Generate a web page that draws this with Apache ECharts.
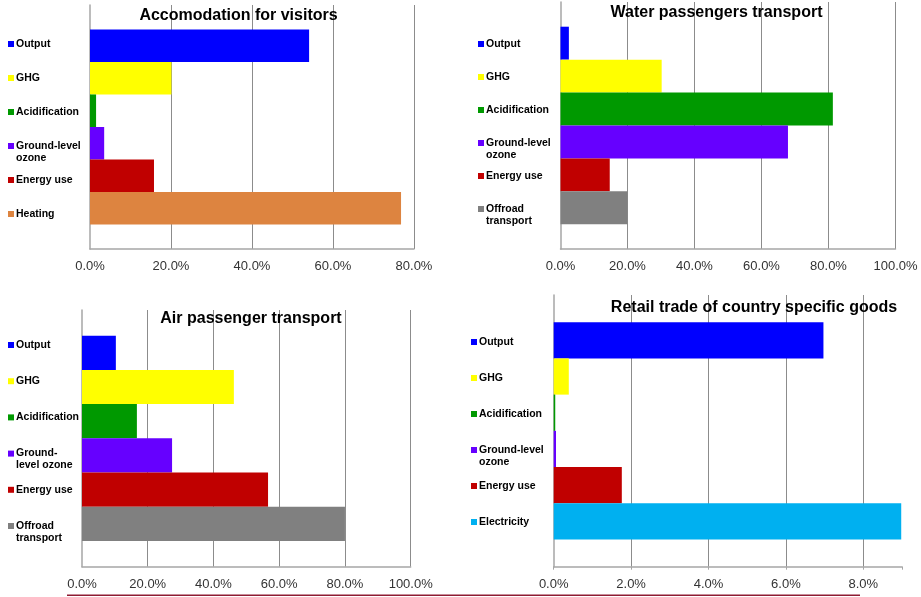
<!DOCTYPE html>
<html>
<head>
<meta charset="utf-8">
<script src="https://cdn.jsdelivr.net/npm/echarts@6/dist/echarts.min.js"></script>
<style>
html,body{margin:0;padding:0;background:#fff;}
#chart{width:921px;height:597px;}
</style>
</head>
<body>
<div id="chart"></div>
<script>
// ---- data ----
const titles = ['Accomodation for visitors', 'Water passengers transport', 'Air passenger transport', 'Retail trade of country specific goods'];

const metrics1 = ['Output', 'GHG', 'Acidification', 'Ground-level ozone', 'Energy use', 'Heating'];
const values1 = [54.1, 20.1, 1.5, 3.5, 15.8, 76.8];

const metrics2 = ['Output', 'GHG', 'Acidification', 'Ground-level ozone', 'Energy use', 'Offroad transport'];
const values2 = [2.5, 30.2, 81.3, 67.9, 14.7, 20.0];

const metrics3 = ['Output', 'GHG', 'Acidification', 'Ground-level ozone', 'Energy use', 'Offroad transport'];
const values3 = [10.3, 46.2, 16.7, 27.4, 56.6, 80.0];

const metrics4 = ['Output', 'GHG', 'Acidification', 'Ground-level ozone', 'Energy use', 'Electricity'];
const values4 = [6.97, 0.39, 0.04, 0.06, 1.76, 8.98];

// legend label lines (first line, second line) per panel
const legendLines1 = [['Output', ''], ['GHG', ''], ['Acidification', ''], ['Ground-level', 'ozone'], ['Energy use', ''], ['Heating', '']];
const legendLines2 = [['Output', ''], ['GHG', ''], ['Acidification', ''], ['Ground-level', 'ozone'], ['Energy use', ''], ['Offroad', 'transport']];
const legendLines3 = [['Output', ''], ['GHG', ''], ['Acidification', ''], ['Ground-', 'level ozone'], ['Energy use', ''], ['Offroad', 'transport']];
const legendLines4 = [['Output', ''], ['GHG', ''], ['Acidification', ''], ['Ground-level', 'ozone'], ['Energy use', ''], ['Electricity', '']];

// axis extents and tick step (percent)
const axisMax = [80, 100, 100, 9];
const axisStep = [20, 20, 20, 2];

const colors = {
  'Output': '#0000FF',
  'GHG': '#FFFF00',
  'Acidification': '#009900',
  'Ground-level ozone': '#6600FF',
  'Energy use': '#C00000',
  'Heating': '#DD8440',
  'Offroad transport': '#808080',
  'Electricity': '#00B0F0'
};

// ---- layout ----
const panels = [
  { metrics: metrics1, values: values1, lines: legendLines1,
    grid: { left: 90, top: 5, width: 324, height: 244 },
    title: { cx: 238.5, top: 8 }, legend: { left: 8, top: 26, gap: -2 }, ticks: false },
  { metrics: metrics2, values: values2, lines: legendLines2,
    grid: { left: 560.5, top: 2, width: 335, height: 247 },
    title: { cx: 716.5, top: 4.5 }, legend: { left: 478, top: 26, gap: -3 }, ticks: false },
  { metrics: metrics3, values: values3, lines: legendLines3,
    grid: { left: 82, top: 310, width: 328.7, height: 256.7 },
    title: { cx: 251, top: 310.5 }, legend: { left: 8, top: 327, gap: 0.2 }, ticks: false },
  { metrics: metrics4, values: values4, lines: legendLines4,
    grid: { left: 553.7, top: 295, width: 348.3, height: 271.7 },
    title: { cx: 754, top: 299.5 }, legend: { left: 471, top: 324, gap: 0 }, ticks: true }
];

const FONT = '"Liberation Sans", Arial, sans-serif';

const option = {
  animation: false,
  backgroundColor: '#ffffff',
  title: [], legend: [], grid: [], xAxis: [], yAxis: [], series: [],
  graphic: [{
    type: 'line', silent: true,
    shape: { x1: 67, y1: 595.3, x2: 860, y2: 595.3 },
    style: { stroke: '#8E1B32', lineWidth: 1.6 }
  }]
};

panels.forEach((p, pi) => {
  option.grid.push(Object.assign({ containLabel: false }, p.grid));
  option.title.push({
    text: titles[pi], left: p.title.cx, top: p.title.top, textAlign: 'center', padding: 0,
    textStyle: { fontFamily: FONT, fontSize: 16, fontWeight: 'bold', color: '#000' }
  });
  const lineMap = {};
  p.metrics.forEach((m, i) => { lineMap[m] = p.lines[i]; });
  option.legend.push({
    orient: 'vertical', left: p.legend.left, top: p.legend.top, padding: 0,
    itemGap: p.legend.gap, itemWidth: 6, itemHeight: 6, icon: 'rect',
    selectedMode: false,
    data: p.metrics.slice(),
    formatter: name => '\n' + lineMap[name][0] + '\n' + lineMap[name][1],
    textStyle: { fontFamily: FONT, fontSize: 10.5, fontWeight: 'bold', color: '#000', lineHeight: 12, padding: [0, 0, 0, -3] }
  });
  option.xAxis.push({
    type: 'value', gridIndex: pi, min: 0, max: axisMax[pi], interval: axisStep[pi],
    axisLine: { show: true, lineStyle: { color: '#a6a6a6', width: 1.5 } },
    axisTick: { show: p.ticks, length: 3, lineStyle: { color: '#a6a6a6' } },
    axisLabel: {
      margin: 11, fontFamily: FONT, fontSize: 13, color: '#333333',
      formatter: v => (Math.abs(v / axisStep[pi] - Math.round(v / axisStep[pi])) > 1e-6) ? '' : v.toFixed(1) + '%'
    },
    splitLine: { show: true, showMinLine: false, showMaxLine: pi !== 3, lineStyle: { color: '#8c8c8c', width: 1 } }
  });
  option.yAxis.push({
    type: 'category', gridIndex: pi, data: ['all'],
    axisLine: { show: true, lineStyle: { color: '#a6a6a6', width: 1.5 } },
    axisTick: { show: false }, axisLabel: { show: false }, splitLine: { show: false }
  });
  p.metrics.forEach((m, i) => {
    option.series.push({
      type: 'bar', name: m, xAxisIndex: pi, yAxisIndex: pi,
      data: [p.values[i]],
      itemStyle: { color: colors[m] },
      barGap: '0%', barCategoryGap: '20%', silent: true
    });
  });
});

const chart = echarts.init(document.getElementById('chart'), null, { renderer: 'canvas' });
chart.setOption(option);
</script>
</body>
</html>
